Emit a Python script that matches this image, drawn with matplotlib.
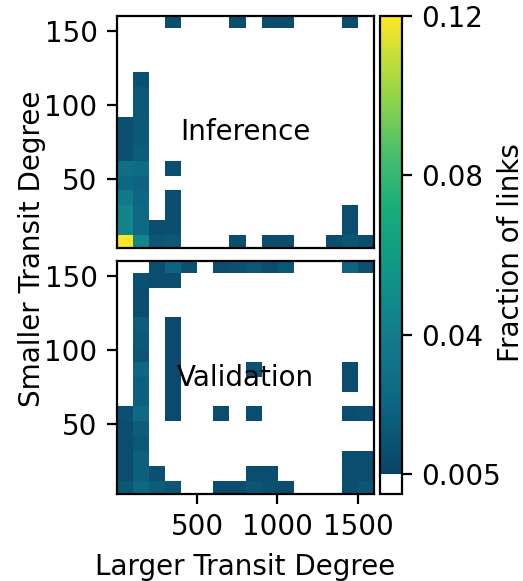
"""Link fraction heatmaps: inference vs validation."""

import matplotlib.pyplot as plt
import numpy as np
from matplotlib.colors import LinearSegmentedColormap, Normalize

# bin edges (larger degree on x, smaller degree on y)
x_edges = np.arange(2, 1603, 100)
y_edges = np.arange(2, 163, 10)

# fraction of links x 1000, rows listed from top (152-162) to bottom (2-12)
inference = [
    [0, 0, 0, 10, 0, 0, 0, 10, 0, 10, 10, 0, 0, 0, 10, 0],
    [0, 0, 0, 0, 0, 0, 0, 0, 0, 0, 0, 0, 0, 0, 0, 0],
    [0, 0, 0, 0, 0, 0, 0, 0, 0, 0, 0, 0, 0, 0, 0, 0],
    [0, 0, 0, 0, 0, 0, 0, 0, 0, 0, 0, 0, 0, 0, 0, 0],
    [0, 12, 0, 0, 0, 0, 0, 0, 0, 0, 0, 0, 0, 0, 0, 0],
    [0, 15, 0, 0, 0, 0, 0, 0, 0, 0, 0, 0, 0, 0, 0, 0],
    [0, 15, 0, 0, 0, 0, 0, 0, 0, 0, 0, 0, 0, 0, 0, 0],
    [12, 16, 0, 0, 0, 0, 0, 0, 0, 0, 0, 0, 0, 0, 0, 0],
    [12, 16, 0, 0, 0, 0, 0, 0, 0, 0, 0, 0, 0, 0, 0, 0],
    [13, 18, 0, 0, 0, 0, 0, 0, 0, 0, 0, 0, 0, 0, 0, 0],
    [30, 28, 0, 10, 0, 0, 0, 0, 0, 0, 0, 0, 0, 0, 0, 0],
    [24, 22, 0, 0, 0, 0, 0, 0, 0, 0, 0, 0, 0, 0, 0, 0],
    [38, 24, 0, 11, 0, 0, 0, 0, 0, 0, 0, 0, 0, 0, 0, 0],
    [45, 26, 0, 11, 0, 0, 0, 0, 0, 0, 0, 0, 0, 0, 10, 0],
    [45, 26, 10, 11, 0, 0, 0, 0, 0, 0, 0, 0, 0, 0, 10, 0],
    [120, 45, 14, 16, 0, 0, 0, 10, 0, 10, 10, 0, 0, 10, 14, 10],
]

validation = [
    [0, 0, 10, 22, 12, 0, 10, 13, 15, 10, 15, 0, 0, 0, 22, 12],
    [0, 12, 10, 10, 0, 0, 0, 0, 0, 0, 0, 0, 0, 0, 0, 0],
    [0, 10, 0, 0, 0, 0, 0, 0, 0, 0, 0, 0, 0, 0, 0, 0],
    [0, 10, 0, 0, 0, 0, 0, 0, 0, 0, 0, 0, 0, 0, 0, 0],
    [0, 18, 0, 9, 0, 0, 0, 0, 0, 0, 0, 0, 0, 0, 0, 0],
    [0, 16, 0, 9, 0, 0, 0, 0, 0, 0, 0, 0, 0, 0, 0, 0],
    [0, 14, 0, 9, 0, 0, 0, 0, 0, 0, 0, 0, 0, 0, 0, 0],
    [0, 24, 0, 9, 0, 0, 0, 0, 12, 0, 0, 0, 0, 0, 10, 0],
    [0, 20, 0, 9, 0, 0, 0, 0, 0, 0, 0, 0, 0, 0, 10, 0],
    [0, 20, 0, 9, 0, 0, 0, 0, 0, 0, 0, 0, 0, 0, 0, 0],
    [12, 26, 0, 9, 0, 0, 10, 0, 10, 0, 0, 0, 0, 0, 10, 12],
    [10, 18, 0, 0, 0, 0, 0, 0, 0, 0, 0, 0, 0, 0, 0, 0],
    [10, 15, 0, 0, 0, 0, 0, 0, 0, 0, 0, 0, 0, 0, 0, 0],
    [10, 20, 0, 0, 0, 0, 0, 0, 0, 0, 0, 0, 0, 0, 10, 10],
    [10, 20, 12, 0, 0, 0, 0, 0, 10, 10, 0, 0, 0, 0, 10, 10],
    [15, 24, 18, 14, 0, 0, 10, 10, 14, 12, 10, 0, 0, 0, 11, 14],
]

panel_names = ["Inference", "Validation"]
cbar_ticks = [0.005, 0.04, 0.08, 0.12]
cbar_ticklabels = ["0.005", "0.04", "0.08", "0.12"]

vmin, vmax = 0.005, 0.12
# dark blue -> teal -> green -> yellow, white below vmin
stops = [
    (0.005, "#0a4366"),
    (0.023, "#0d6683"),
    (0.040, "#137c8c"),
    (0.058, "#0f9a86"),
    (0.071, "#15ad7c"),
    (0.086, "#4cbf6c"),
    (0.099, "#8ed449"),
    (0.109, "#c2dd3a"),
    (0.120, "#fde725"),
]
cmap = LinearSegmentedColormap.from_list(
    "links", [((v - vmin) / (vmax - vmin), c) for v, c in stops]
)
cmap.set_under("white")
norm = Normalize(vmin=vmin, vmax=vmax)

plt.rcParams["font.size"] = 10
fig = plt.figure(figsize=(2.615, 2.905), dpi=200)
ax_top = fig.add_axes([0.2237, 0.5731, 0.4914, 0.3993])
ax_bot = fig.add_axes([0.2237, 0.1497, 0.4914, 0.4010])

for ax, grid, name in zip([ax_top, ax_bot], [inference, validation], panel_names):
    values = np.array(grid, dtype=float)[::-1] / 1000.0
    mesh = ax.pcolormesh(x_edges, y_edges, values, cmap=cmap, norm=norm)
    ax.set_xlim(3, 1600)
    ax.set_ylim(3, 160)
    ax.set_yticks([50, 100, 150])
    ax.set_xticks([500, 1000, 1500])
    ax.text(0.5, 0.5, name, transform=ax.transAxes, ha="center", va="center")

ax_top.tick_params(axis="x", bottom=False, labelbottom=False)
ax_bot.set_xlabel("Larger Transit Degree")
fig.text(0.061, 0.572, "Smaller Transit Degree", rotation=90, ha="center", va="center")

cax = fig.add_axes([0.7266, 0.1497, 0.042, 0.8228])
cb = fig.colorbar(
    mesh,
    cax=cax,
    extend="min",
    extendrect=True,
    extendfrac=vmin / (vmax - vmin),
    ticks=cbar_ticks,
)
cb.set_ticklabels(cbar_ticklabels)
cb.set_label("Fraction of links", labelpad=-1.5)
cb.ax.yaxis.label.set_y(0.484)

fig.savefig("out.png", dpi=200)
